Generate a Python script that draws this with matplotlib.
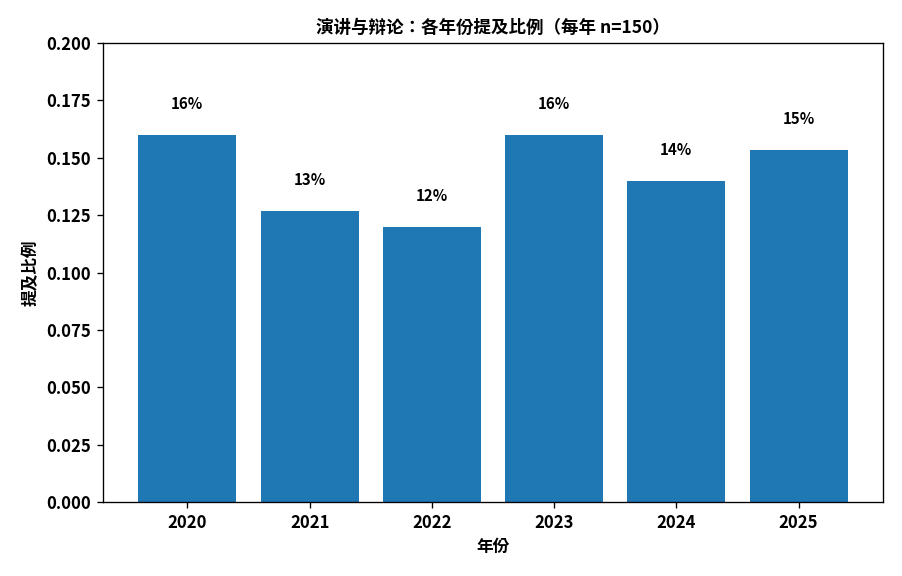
import matplotlib
matplotlib.use("Agg")
import matplotlib.pyplot as plt

plt.rcParams['font.family'] = ['Noto Sans CJK JP', 'DejaVu Sans']
plt.rcParams['font.weight'] = 'bold'
plt.rcParams['axes.labelweight'] = 'bold'
plt.rcParams['axes.titleweight'] = 'bold'

years = ['2020', '2021', '2022', '2023', '2024', '2025']
counts = [24, 19, 18, 24, 21, 23]
n_per_year = 150
props = [c / n_per_year for c in counts]

DPI = 120
fig = plt.figure(figsize=(902 / DPI, 576 / DPI), dpi=DPI)
ax = fig.add_axes([0.1142, 0.1285, 0.8647, 0.7968])
bars = ax.bar(years, props, width=0.8, color='#1f77b4')
for b, p in zip(bars, props):
    ax.text(b.get_x() + b.get_width() / 2, p + 0.01, f"{p*100:.0f}%",
            ha='center', va='bottom', fontsize=9, fontweight='bold')
ax.set_ylim(0, 0.2)
ax.set_yticks([0, 0.025, 0.05, 0.075, 0.1, 0.125, 0.15, 0.175, 0.2])
ax.set_yticklabels([f"{v:.3f}" for v in ax.get_yticks()])
ax.tick_params(labelsize=10)
for lab in ax.get_xticklabels() + ax.get_yticklabels():
    lab.set_fontweight('bold')
ax.set_xlabel('年份', fontsize=10)
ax.set_ylabel('提及比例', fontsize=10)
ax.set_title('演讲与辩论：各年份提及比例（每年 n=150）', fontsize=10.5)
fig.savefig('out.png', dpi=DPI)
